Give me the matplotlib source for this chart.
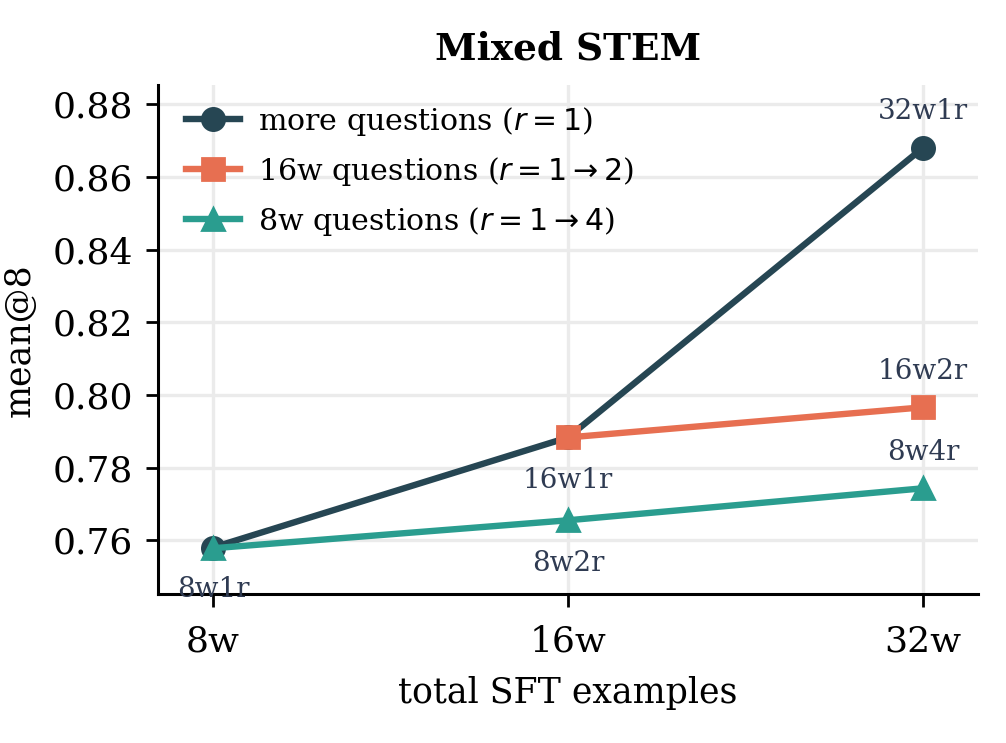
import matplotlib
matplotlib.use("Agg")
import matplotlib.pyplot as plt

plt.rcParams['font.family'] = 'DejaVu Serif'

x_labels = ['8w', '16w', '32w']
more_q = [0.7580, 0.7883, 0.8680]
q16w = [0.7883, 0.7966]
q8w = [0.7578, 0.7655, 0.7743]

c_dark = '#264653'
c_orange = '#e76f51'
c_teal = '#2a9d8f'
c_text = '#2f3b52'

fig, ax = plt.subplots(figsize=(5.03, 3.715), dpi=200)

ax.plot([0, 1, 2], more_q, '-o', color=c_dark, lw=2.3, ms=8,
        label='more questions ($r=1$)', zorder=3)
ax.plot([1, 2], q16w, '-s', color=c_orange, lw=2.3, ms=8,
        label='16w questions ($r=1\\rightarrow2$)', zorder=3)
ax.plot([0, 1, 2], q8w, '-^', color=c_teal, lw=2.3, ms=8,
        label='8w questions ($r=1\\rightarrow4$)', zorder=4)

# point labels
notes = [
    (0, more_q[0], '8w1r', -15),
    (1, more_q[1], '16w1r', -15.5),
    (2, more_q[2], '32w1r', 13),
    (2, q16w[1], '16w2r', 13),
    (1, q8w[1], '8w2r', -15.5),
    (2, q8w[2], '8w4r', 13),
]
for xi, yi, txt, dy in notes:
    ax.annotate(txt, (xi, yi), xytext=(0, dy), textcoords='offset points',
                ha='center', va='center', fontsize=10, color=c_text)

ax.set_xticks([0, 1, 2])
ax.set_xticklabels(x_labels)
ax.set_xlim(-0.155, 2.155)
ax.set_ylim(0.7451, 0.8852)
ax.set_yticks([0.76, 0.78, 0.80, 0.82, 0.84, 0.86, 0.88])
ax.tick_params(labelsize=13, length=4.5, width=1.0)
ax.tick_params(axis='x', pad=6.3)
ax.tick_params(axis='y', pad=4.5)
ax.set_xlabel('total SFT examples', fontsize=12.5, labelpad=6.2)
ax.set_ylabel('mean@8', fontsize=12.5, labelpad=5.8)
ax.set_title('Mixed STEM', fontsize=13.5, fontweight='bold', pad=9.2)
ax.grid(True, color='#ebebeb', lw=1.2)
ax.set_axisbelow(True)
ax.spines['top'].set_visible(False)
ax.spines['right'].set_visible(False)
for s in ['left', 'bottom']:
    ax.spines[s].set_linewidth(1.1)
ax.legend(loc='upper left', bbox_to_anchor=(0.01, 1.0), frameon=False,
          fontsize=10.8, handlelength=1.8, handletextpad=0.6,
          labelspacing=0.56, borderaxespad=0.25)

fig.subplots_adjust(left=0.157, right=0.972, bottom=0.2, top=0.885)
fig.savefig('out.png', dpi=200)
plt.close()
